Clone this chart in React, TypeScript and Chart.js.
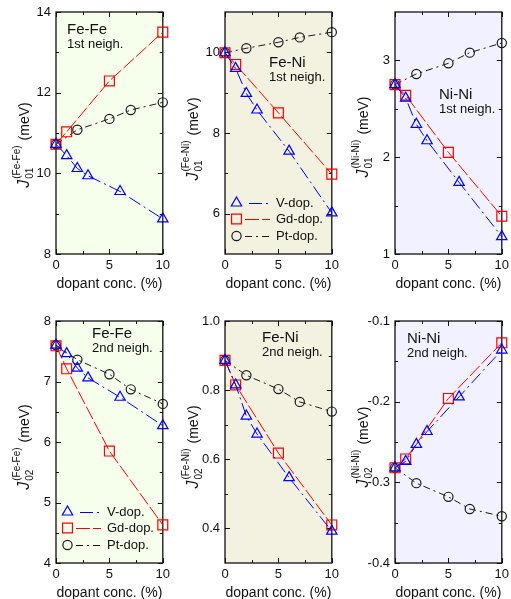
import React, { useEffect, useRef } from "react";
import { Chart, registerables } from "chart.js";
Chart.register(...registerables);

const FONT = '"Liberation Sans", Arial, Helvetica, sans-serif';

// dopant concentrations (%)
const dopV = [0, 1, 2, 3, 6, 10];
const dopGd = [0, 1, 5, 10];
const dopPt = [0, 2, 5, 7, 10];
const xMajor = [0, 5, 10];
const xMinor = [2.5, 7.5];

// 1st neighbours
const fefe1V = [10.72, 10.44, 10.12, 9.94, 9.55, 8.87];
const fefe1Gd = [10.72, 11.03, 12.29, 13.5];
const fefe1Pt = [10.72, 11.08, 11.35, 11.57, 11.76];

const feni1V = [9.99, 9.6, 8.98, 8.57, 7.55, 6.02];
const feni1Gd = [9.99, 9.7, 8.5, 6.98];
const feni1Pt = [9.99, 10.1, 10.25, 10.37, 10.5];

const nini1V = [2.75, 2.61, 2.34, 2.17, 1.74, 1.18];
const nini1Gd = [2.75, 2.64, 2.05, 1.39];
const nini1Pt = [2.75, 2.86, 2.97, 3.08, 3.18];

// 2nd neighbours
const fefe2V = [7.6, 7.46, 7.22, 7.06, 6.74, 6.27];
const fefe2Gd = [7.59, 7.21, 5.85, 4.63];
const fefe2Pt = [7.6, 7.36, 7.12, 6.87, 6.63];

const feni2V = [0.886, 0.815, 0.725, 0.673, 0.547, 0.392];
const feni2Gd = [0.886, 0.815, 0.618, 0.41];
const feni2Pt = [0.886, 0.843, 0.803, 0.766, 0.738];

const nini2V = [-0.282, -0.274, -0.253, -0.237, -0.194, -0.136];
const nini2Gd = [-0.282, -0.271, -0.196, -0.127];
const nini2Pt = [-0.282, -0.301, -0.318, -0.333, -0.342];

// y tick labels
const ticksFeFe1 = [8, 10, 12, 14];
const ticksFeNi1 = [6, 8, 10];
const ticksNiNi1 = [1, 2, 3];
const ticksFeFe2 = [4, 5, 6, 7, 8];
const ticksFeNi2 = [0.4, 0.6, 0.8, 1.0];
const ticksNiNi2 = [-0.4, -0.3, -0.2, -0.1];

const seriesNames = ["V-dop.", "Gd-dop.", "Pt-dop."];

const BLUE = "#0000ff";
const RED = "#ff0000";
const BLACK = "#1a1a1a";
const DASH_V = [13, 4, 2, 4];
const DASH_GD = [14, 3];
const DASH_PT = [7, 4, 2, 4];

const PW = 109;
const PH = 242;
const PAD_L = 56;
const PAD_T = 12;
const PAD_R = 6;
const AX_H = 44;
const CW = PAD_L + PW + PAD_R;
const CH = PAD_T + PH + AX_H;

const R_TRI = 6;
const R_RECT = 7;
const R_CIRC = 4.6;

type Panel = {
  left: number;
  top: number;
  bg: string;
  min: number;
  max: number;
  major: number[];
  minor: number[];
  dec: number;
  v: number[];
  gd: number[];
  pt: number[];
  sup: string;
  sub: string;
  title: string;
  subtitle: string;
  tx: number;
  ty: number;
  legend: boolean;
  labelShift: number;
};

const BG_FE = "#f5ffec";
const BG_FENI = "#f3f1e0";
const BG_NI = "#f1f1ff";

const panels: Panel[] = [
  { left: 0, top: 0, bg: BG_FE, min: 8, max: 14, major: ticksFeFe1, minor: [9, 11, 13], dec: 0, v: fefe1V, gd: fefe1Gd, pt: fefe1Pt, sup: "(Fe-Fe)", sub: "01", title: "Fe-Fe", subtitle: "1st neigh.", tx: 11, ty: 18, legend: false, labelShift: 12 },
  { left: 169, top: 0, bg: BG_FENI, min: 5, max: 11, major: ticksFeNi1, minor: [7, 9], dec: 0, v: feni1V, gd: feni1Gd, pt: feni1Pt, sup: "(Fe-Ni)", sub: "01", title: "Fe-Ni", subtitle: "1st neigh.", tx: 44, ty: 51, legend: true, labelShift: 6 },
  { left: 339, top: 0, bg: BG_NI, min: 1, max: 3.5, major: ticksNiNi1, minor: [1.5, 2.5], dec: 0, v: nini1V, gd: nini1Gd, pt: nini1Pt, sup: "(Ni-Ni)", sub: "01", title: "Ni-Ni", subtitle: "1st neigh.", tx: 44, ty: 83, legend: false, labelShift: 4 },
  { left: 0, top: 309, bg: BG_FE, min: 4, max: 8, major: ticksFeFe2, minor: [4.5, 5.5, 6.5, 7.5], dec: 0, v: fefe2V, gd: fefe2Gd, pt: fefe2Pt, sup: "(Fe-Fe)", sub: "02", title: "Fe-Fe", subtitle: "2nd neigh.", tx: 36, ty: 13, legend: true, labelShift: 5 },
  { left: 169, top: 309, bg: BG_FENI, min: 0.3, max: 1.0, major: ticksFeNi2, minor: [0.5, 0.7, 0.9], dec: 1, v: feni2V, gd: feni2Gd, pt: feni2Pt, sup: "(Fe-Ni)", sub: "02", title: "Fe-Ni", subtitle: "2nd neigh.", tx: 37, ty: 17, legend: false, labelShift: 5 },
  { left: 339, top: 309, bg: BG_NI, min: -0.4, max: -0.1, major: ticksNiNi2, minor: [-0.35, -0.25, -0.15], dec: 1, v: nini2V, gd: nini2Gd, pt: nini2Pt, sup: "(Ni-Ni)", sub: "02", title: "Ni-Ni", subtitle: "2nd neigh.", tx: 12, ty: 18, legend: false, labelShift: 5 },
];

function drawMarker(ctx: CanvasRenderingContext2D, style: string, x: number, y: number, color: string) {
  ctx.save();
  ctx.strokeStyle = color;
  ctx.lineWidth = 1.2;
  ctx.setLineDash([]);
  ctx.beginPath();
  if (style === "triangle") {
    const r = R_TRI;
    ctx.moveTo(x, y - r);
    ctx.lineTo(x + r * 0.866, y + r * 0.5);
    ctx.lineTo(x - r * 0.866, y + r * 0.5);
    ctx.closePath();
  } else if (style === "rect") {
    const s = R_RECT * Math.SQRT1_2;
    ctx.rect(x - s, y - s, 2 * s, 2 * s);
  } else {
    ctx.arc(x, y, R_CIRC, 0, Math.PI * 2);
  }
  ctx.stroke();
  ctx.restore();
}

function makePlugin(p: Panel) {
  return {
    id: "frame",
    beforeDraw(chart: any) {
      const { ctx, chartArea: a } = chart;
      ctx.save();
      ctx.fillStyle = p.bg;
      ctx.fillRect(a.left, a.top, a.right - a.left, a.bottom - a.top);
      ctx.restore();
    },
    beforeDatasetsDraw(chart: any) {
      const { ctx, chartArea: a, scales } = chart;
      ctx.save();
      ctx.strokeStyle = "#111";
      ctx.lineWidth = 1.3;
      ctx.strokeRect(a.left, a.top, a.right - a.left, a.bottom - a.top);
      ctx.lineWidth = 1;
      const yT = (vals: number[], len: number) => {
        vals.forEach((v) => {
          const py = Math.round(scales.y.getPixelForValue(v)) + 0.5;
          ctx.beginPath();
          ctx.moveTo(a.left, py);
          ctx.lineTo(a.left + len, py);
          ctx.moveTo(a.right, py);
          ctx.lineTo(a.right - len, py);
          ctx.stroke();
        });
      };
      const xT = (vals: number[], len: number) => {
        vals.forEach((v) => {
          const px = Math.round(scales.x.getPixelForValue(v)) + 0.5;
          ctx.beginPath();
          ctx.moveTo(px, a.bottom);
          ctx.lineTo(px, a.bottom - len);
          ctx.moveTo(px, a.top);
          ctx.lineTo(px, a.top + len);
          ctx.stroke();
        });
      };
      yT(p.major, 5);
      yT(p.minor, 3);
      xT(xMajor, 5);
      xT(xMinor, 3);
      ctx.restore();
    },
    afterDraw(chart: any) {
      const { ctx, chartArea: a } = chart;
      ctx.save();
      ctx.fillStyle = "#111";
      ctx.textAlign = "left";
      ctx.textBaseline = "middle";
      // annotation
      ctx.font = `15px ${FONT}`;
      ctx.fillText(p.title, a.left + p.tx, a.top + p.ty);
      ctx.font = `13px ${FONT}`;
      ctx.fillText(p.subtitle, a.left + p.tx, a.top + p.ty + 14);

      // legend
      if (p.legend) {
        const cols = [BLUE, RED, BLACK];
        const styles = ["triangle", "rect", "circle"];
        const dashes = [DASH_V, DASH_GD, DASH_PT];
        const offs = [51, 35, 18];
        for (let i = 0; i < 3; i++) {
          const yy = a.bottom - offs[i];
          drawMarker(ctx, styles[i], a.left + 11.5, yy, cols[i]);
          ctx.save();
          ctx.strokeStyle = cols[i];
          ctx.lineWidth = 1;
          ctx.setLineDash(dashes[i]);
          ctx.lineDashOffset = i === 0 ? 19 : 0;
          ctx.beginPath();
          ctx.moveTo(a.left + 20, yy + 0.5);
          ctx.lineTo(a.left + 45, yy + 0.5);
          ctx.stroke();
          ctx.restore();
          ctx.fillStyle = "#111";
          ctx.font = `13px ${FONT}`;
          ctx.textBaseline = "middle";
          ctx.fillText(seriesNames[i], a.left + 51, yy);
        }
      }

      // y axis label: J_sub^sup (meV)
      const fJ = `italic 16px ${FONT}`;
      const fS = `10px ${FONT}`;
      const fM = `14px ${FONT}`;
      ctx.font = fJ;
      const wJ = ctx.measureText("J").width;
      ctx.font = fS;
      const wSup = ctx.measureText(p.sup).width;
      const wSub = ctx.measureText(p.sub).width;
      ctx.font = fM;
      const wM = ctx.measureText("(meV)").width;
      const gap = 5;
      const total = wJ + 1 + Math.max(wSup, wSub) + gap + wM;
      const cy = (a.top + a.bottom) / 2 + p.labelShift;
      ctx.translate(a.left - 27, cy);
      ctx.rotate(-Math.PI / 2);
      ctx.textBaseline = "alphabetic";
      let cx = -total / 2;
      ctx.font = fJ;
      ctx.fillText("J", cx, 0);
      cx += wJ + 1;
      ctx.font = fS;
      ctx.fillText(p.sup, cx, -9);
      ctx.fillText(p.sub, cx, 4);
      cx += Math.max(wSup, wSub) + gap;
      ctx.font = fM;
      ctx.fillText("(meV)", cx, 0);
      ctx.restore();
    },
  };
}

function PanelChart({ p }: { p: Panel }) {
  const ref = useRef<HTMLCanvasElement>(null);
  useEffect(() => {
    if (!ref.current) return;
    const mk = (xs: number[], ys: number[]) => xs.map((x, i) => ({ x, y: ys[i] }));
    const common = {
      fill: false,
      borderWidth: 1,
      pointBackgroundColor: "rgba(0,0,0,0)",
      pointBorderWidth: 1.2,
      pointHoverRadius: 0,
      tension: 0,
      clip: false as any,
    };
    const chart = new Chart(ref.current, {
      type: "line",
      data: {
        datasets: [
          { ...common, label: seriesNames[0], data: mk(dopV, p.v), borderColor: BLUE, pointBorderColor: BLUE, borderDash: DASH_V, pointStyle: "triangle", pointRadius: R_TRI },
          { ...common, label: seriesNames[1], data: mk(dopGd, p.gd), borderColor: RED, pointBorderColor: RED, borderDash: DASH_GD, pointStyle: "rect", pointRadius: R_RECT },
          { ...common, label: seriesNames[2], data: mk(dopPt, p.pt), borderColor: BLACK, pointBorderColor: BLACK, borderDash: DASH_PT, pointStyle: "circle", pointRadius: R_CIRC },
        ],
      },
      options: {
        responsive: false,
        animation: false,
        events: [],
        layout: { padding: { top: PAD_T, right: PAD_R, left: 0, bottom: 0 } },
        plugins: { legend: { display: false }, tooltip: { enabled: false } },
        scales: {
          x: {
            type: "linear",
            min: 0,
            max: 10,
            grid: { display: false, drawTicks: false },
            border: { display: false },
            ticks: { font: { family: FONT, size: 13 }, color: "#111", padding: 4, autoSkip: false, maxRotation: 0 },
            afterBuildTicks: (s: any) => {
              s.ticks = xMajor.map((v) => ({ value: v }));
            },
            afterFit: (s: any) => {
              s.height = AX_H;
              s.paddingLeft = 0;
              s.paddingRight = 0;
            },
            title: { display: true, text: "dopant conc. (%)", font: { family: FONT, size: 14 }, color: "#111", padding: { top: 0, bottom: 5 } },
          },
          y: {
            type: "linear",
            min: p.min,
            max: p.max,
            grid: { display: false, drawTicks: false },
            border: { display: false },
            ticks: { font: { family: FONT, size: 13 }, color: "#111", padding: 5, autoSkip: false, callback: (v: any) => Number(v).toFixed(p.dec) },
            afterBuildTicks: (s: any) => {
              s.ticks = p.major.map((v) => ({ value: v }));
            },
            afterFit: (s: any) => {
              s.width = PAD_L;
              s.paddingTop = 0;
              s.paddingBottom = 0;
            },
          },
        },
      } as any,
      plugins: [makePlugin(p) as any],
    });
    return () => chart.destroy();
  }, [p]);
  return (
    <canvas
      ref={ref}
      width={CW}
      height={CH}
      style={{ position: "absolute", left: p.left, top: p.top, width: CW, height: CH }}
    />
  );
}

export default function App() {
  return (
    <div style={{ position: "absolute", left: 0, top: 0, width: 511, height: 599, background: "#fff", overflow: "hidden" }}>
      {panels.map((p, i) => (
        <PanelChart key={i} p={p} />
      ))}
    </div>
  );
}
